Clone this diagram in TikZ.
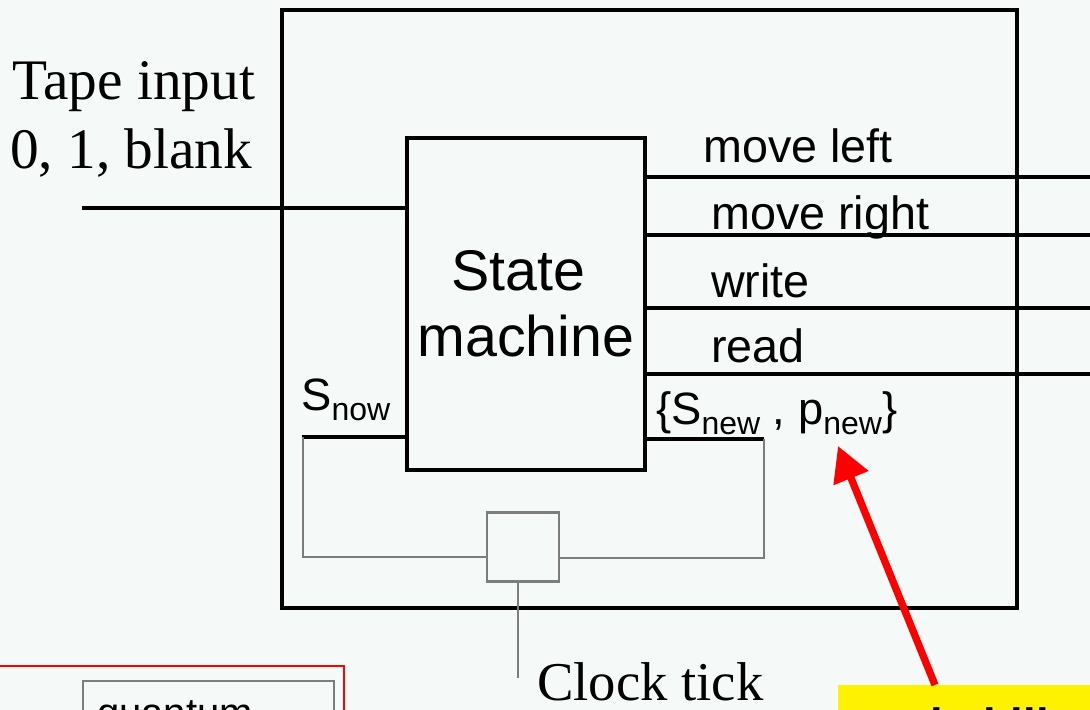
\documentclass[tikz,border=0pt]{standalone}
\usepackage{fontspec}
\setmainfont{Liberation Serif}
\setsansfont{Liberation Sans}
\usetikzlibrary{arrows.meta}
\definecolor{bg}{RGB}{245,250,248}
\definecolor{wiregray}{RGB}{125,125,125}
\tikzset{
  heavy/.style={line width=3pt},
  heavier/.style={line width=3.6pt},
  wire/.style={draw=wiregray, line width=1.6pt},
  serlabel/.style={inner sep=0pt, anchor=base west, font=\rmfamily\fontsize{43}{50}\selectfont},
  sanslabel/.style={inner sep=0pt, anchor=base west, font=\sffamily\fontsize{35}{42}\selectfont},
  bigsans/.style={inner sep=0pt, anchor=base, font=\sffamily\fontsize{43}{50}\selectfont},
}
\newcommand{\subtext}[1]{\raisebox{-8pt}{\fontsize{24}{28}\selectfont #1}}
\begin{document}
\begin{tikzpicture}[x=0.75pt,y=-0.75pt]
\useasboundingbox (0,0) rectangle (1090,710);
\clip (0,0) rectangle (1090,710);
\fill[bg] (0,0) rectangle (1090,710);

% outer box
\node[draw, heavier, minimum width=551.25pt, minimum height=448.5pt, inner sep=0pt] (outer) at (649.5,309) {};
% state machine box
\node[draw, heavy, minimum width=178.5pt, minimum height=249pt, inner sep=0pt] (sm) at (526,304) {};
\node[bigsans] (smA) at (518,290) {State};
\node[bigsans] (smB) at (526,356) {machine};

% tape input
\node[serlabel] (tape1) at (12,100) {Tape input};
\node[serlabel] (tape2) at (10,168) {0, 1, blank};
\coordinate (tapeL) at (82,208);
\draw[heavier] (tapeL) -- (outer.west |- tapeL);
\draw[heavy] (outer.west |- tapeL) -- (sm.west |- tapeL);

% outputs
\coordinate (outA) at (1095,177);
\coordinate (outB) at (1095,235);
\coordinate (outC) at (1095,308);
\coordinate (outD) at (1095,374);
\draw[heavy] (sm.east |- outA) -- (outA);
\draw[heavier] (sm.east |- outB) -- (outB);
\draw[heavy] (sm.east |- outC) -- (outC);
\draw[heavy] (sm.east |- outD) -- (outD);
\node[sanslabel] (lblA) at (703,162) {move left};
\node[sanslabel] (lblB) at (711,229) {move right};
\node[sanslabel] (lblC) at (711,297) {write};
\node[sanslabel] (lblD) at (711,362) {read};

% state feedback
\coordinate (snowL) at (302,437);
\coordinate (snewR) at (764,439);
\draw[heavy] (snowL) -- (sm.west |- snowL);
\draw[heavy] (sm.east |- snewR) -- (snewR);
\node[inner sep=0pt, anchor=base west, font=\sffamily\fontsize{34}{40}\selectfont] (snow) at (301,410) {S\subtext{now}};
\node[inner sep=0pt, anchor=base west, font=\sffamily\fontsize{34}{40}\selectfont] (snew) at (656,424) {\{S\subtext{new} , p\subtext{new}\}};

% clock register
\node[draw=wiregray, line width=1.6pt, minimum width=54pt, minimum height=51.75pt, inner sep=0pt] (clk) at (523,547) {};
\coordinate (loopL) at (303,557);
\coordinate (loopR) at (764,558);
\draw[wire] (snowL -| loopL) -- (loopL) -- (clk.west |- loopL);
\draw[wire] (snewR) -- (loopR) -- (clk.east |- loopR);
\coordinate (clkB) at (518,678);
\draw[wire] (clkB |- clk.south) -- (clkB);
\node[serlabel, font=\rmfamily\fontsize{41}{48}\selectfont] (clock) at (537,700) {Clock tick};

% bottom left boxes (cut off)
\node[draw=red, line width=1.4pt, anchor=north west, minimum width=266pt, minimum height=80pt, inner sep=0pt] (redbox) at (-12,665) {};
\node[draw=wiregray, line width=1.6pt, anchor=north west, minimum width=188pt, minimum height=70pt, inner sep=0pt] (qbox) at (82,680) {};
\node[inner sep=0pt, anchor=base west, font=\sffamily\fontsize{30}{36}\selectfont] (qtext) at (97,726) {quantum};

% yellow note (cut off)
\node[fill=yellow, anchor=north west, minimum width=240pt, minimum height=80pt, inner sep=0pt] (note) at (838,685) {};
\node[inner sep=0pt, anchor=base west, font=\sffamily\bfseries\fontsize{34}{40}\selectfont] (notetext) at (857,740) {probabilistic};
\coordinate (arrowFoot) at (935,685);
\coordinate (arrowTip) at (838,446);
\draw[red, line width=5.5pt, -{Triangle[length=26pt,width=27pt]}] (note.north -| arrowFoot) -- (arrowTip);
\end{tikzpicture}
\end{document}
